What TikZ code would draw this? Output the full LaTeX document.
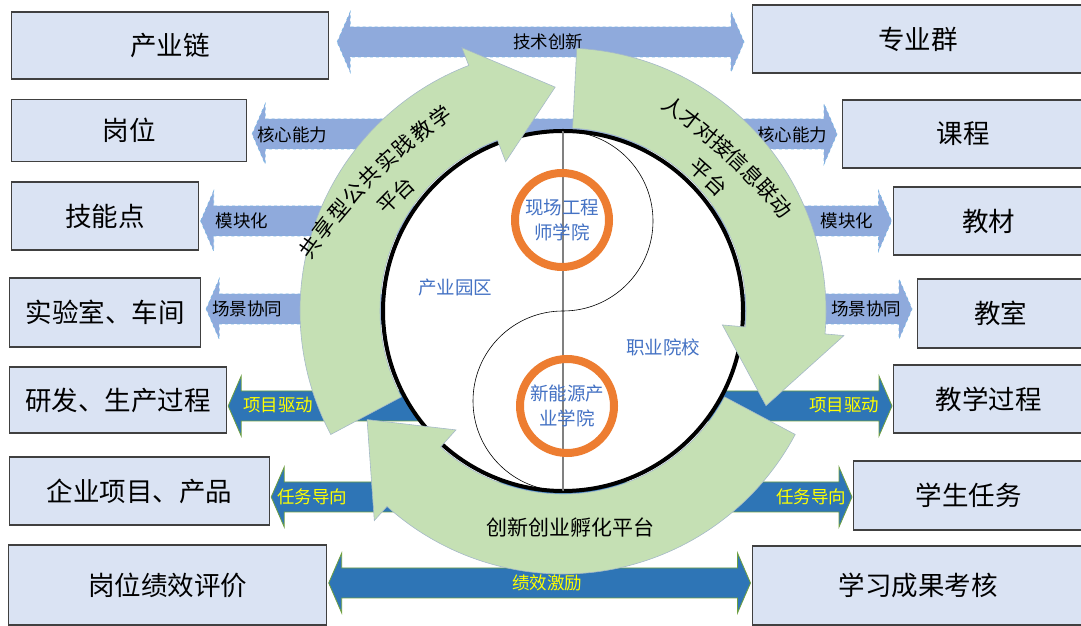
\documentclass[tikz,border=0pt]{standalone}
\usepackage{fontspec}
\setmainfont{Noto Sans CJK SC}
\usetikzlibrary{calc}

\definecolor{boxfill}{HTML}{DAE3F3}
\definecolor{boxline}{HTML}{404040}
\definecolor{lightblue}{HTML}{8FAADC}
\definecolor{lightedge}{HTML}{7DB5E3}
\definecolor{darkblue}{HTML}{2E75B6}
\definecolor{darkedge}{HTML}{70A040}
\definecolor{labelyellow}{HTML}{FFFF00}
\definecolor{platgreen}{HTML}{C5E0B4}
\definecolor{platedge}{HTML}{A5B9C8}
\definecolor{ringorange}{HTML}{ED7D31}
\definecolor{textblue}{HTML}{4472C4}

% double arrow between two boxes: style, left box, right box, axis y, gap
\newcommand{\band}[5]{%
  \path[#1] let \p1=(#2.east), \p2=(#3.west) in
    (\x1+#5,#4pt) -- ++(13,30) -- ++(0,-15) -- (\x2-#5-13,#4pt+15pt) -- ++(0,15)
    -- (\x2-#5,#4pt) -- ++(-13,-30) -- ++(0,15) -- (\x1+#5+13,#4pt-15pt)
    -- ++(0,-15) -- cycle;}

% curved arrow round the campus: tail angle, head base angle, tip angle
\newcommand{\ringarrow}[3]{%
  \path[platform] ($(hub.center)+(#1:183)$) arc[start angle=#1,end angle=#2,radius=183]
    -- ($(hub.center)+(#2:160)$) -- ($(hub.center)+(#3:224)$) -- ($(hub.center)+(#2:282)$)
    -- ($(hub.center)+(#2:263)$) arc[start angle=#2,end angle=#1,radius=263] -- cycle;}

\begin{document}
\begin{tikzpicture}
    [x=1pt,y=1pt,
    box/.style={rectangle,draw=boxline,fill=boxfill,line width=1.2pt,
      inner sep=0pt,anchor=west,font=\fontsize{26.5}{30}\selectfont},
    lightband/.style={fill=lightblue,draw=lightedge,dashed,line width=0.8pt},
    darkband/.style={fill=darkblue,draw=darkedge,line width=0.8pt},
    lightlabel/.style={font=\fontsize{17.5}{20}\selectfont},
    darklabel/.style={font=\fontsize{17.5}{20}\selectfont,text=labelyellow},
    campus/.style={circle,draw=black,fill=white,line width=4pt,
      minimum size=360pt,inner sep=0pt,outer sep=0pt},
    college/.style={circle,draw=ringorange,line width=8pt,minimum size=94pt,
      inner sep=0pt,text=textblue,align=center,font=\fontsize{18.5}{25}\selectfont},
    zone/.style={text=textblue,font=\fontsize{18.5}{22}\selectfont},
    platform/.style={fill=platgreen,draw=platedge,line width=0.6pt},
    platlabel/.style={inner sep=0pt,font=\fontsize{21}{24}\selectfont}]

    \useasboundingbox (0,0) rectangle (1081,626);
    \clip (0,0) rectangle (1081,626);

    \node[box,minimum width=317pt,minimum height=67pt] (chain)      at (11,580.5) {产业链};
    \node[box,minimum width=235pt,minimum height=62pt] (post)       at (11,495.5) {岗位};
    \node[box,minimum width=187pt,minimum height=68pt] (skill)      at (11,410)   {技能点};
    \node[box,minimum width=191pt,minimum height=69pt] (lab)        at (9,313.5)  {实验室、车间};
    \node[box,minimum width=217pt,minimum height=66pt] (rnd)        at (9,226)    {研发、生产过程};
    \node[box,minimum width=260pt,minimum height=68pt] (project)    at (9,135)    {企业项目、产品};
    \node[box,minimum width=318pt,minimum height=80pt] (appraisal)  at (8,41)     {岗位绩效评价};

    \node[box,minimum width=331pt,minimum height=68pt] (major)      at (752,587)  {专业群};
    \node[box,minimum width=241pt,minimum height=68pt] (course)     at (842,492)  {课程};
    \node[box,minimum width=190pt,minimum height=68pt] (textbook)   at (893,405)  {教材};
    \node[box,minimum width=166pt,minimum height=69pt] (classroom)  at (917,312.5) {教室};
    \node[box,minimum width=190pt,minimum height=68pt] (teaching)   at (893,227)  {教学过程};
    \node[box,minimum width=230pt,minimum height=69pt] (task)       at (853,130.5) {学生任务};
    \node[box,minimum width=331pt,minimum height=79pt] (assessment) at (752,40.5) {学习成果考核};

    \band{lightband}{chain}{major}{584}{8}
    \band{lightband}{post}{course}{492}{5}
    \band{lightband}{skill}{textbook}{405}{1.5}
    \band{lightband}{lab}{classroom}{317}{5}
    \band{darkband}{rnd}{teaching}{220}{1}
    \band{darkband}{project}{task}{129}{1}
    \band{darkband}{appraisal}{assessment}{43}{1.5}

    \node[lightlabel] (innovation)   at (548,584) {技术创新};
    \node[lightlabel] (core left)    at (292,491) {核心能力};
    \node[lightlabel] (core right)   at (792,491) {核心能力};
    \node[lightlabel] (module left)  at (242,405) {模块化};
    \node[lightlabel] (module right) at (847,405) {模块化};
    \node[lightlabel] (scene left)   at (247,317) {场景协同};
    \node[lightlabel] (scene right)  at (866,317) {场景协同};
    \node[darklabel]  (drive left)   at (278,221) {项目驱动};
    \node[darklabel]  (drive right)  at (844,221) {项目驱动};
    \node[darklabel]  (guide left)   at (312,129) {任务导向};
    \node[darklabel]  (guide right)  at (811,129) {任务导向};
    \node[darklabel]  (incentive)    at (547,43)  {绩效激励};

    \node[campus] (hub) at (563,315) {};
    \draw[gray,line width=1.2pt] (hub.north) -- (hub.south);
    \draw[line width=0.6pt] (hub.north) arc[start angle=90,end angle=-90,radius=90]
      arc[start angle=90,end angle=270,radius=90];

    \node[college] (engineer) at (562,406) {现场工程\\师学院};
    \node[college] (energy)   at (567,220) {新能源产\\业学院};
    \node[zone]    (park)     at (455,338) {产业园区};
    \node[zone]    (school)   at (663,279) {职业院校};

    \ringarrow{208}{111}{92}
    \ringarrow{87}{-5}{-25}
    \ringarrow{-28}{-132}{-151}

    \coordinate (bend a) at (755,64);
    \foreach \ch [count=\i from 0] in {共,享,型,公,共,实,践,教,学}
      \node[platlabel,rotate=54.7-2.43*\i] (shared\i) at ($(bend a)+({144.7-2.43*\i}:545)$) {\ch};
    \foreach \ch [count=\i from 0] in {平,台}
      \node[platlabel,rotate=45.6-2.4*\i] (shared pf\i) at ($(bend a)+({135.6-2.4*\i}:513)$) {\ch};

    \coordinate (bend b) at (360.5,72.5);
    \foreach \ch [count=\i from 0] in {人,才,对,接,信,息,联,动}
      \node[platlabel,rotate=-35.05-2.2*\i] (talent\i) at ($(bend b)+({54.95-2.2*\i}:545)$) {\ch};
    \foreach \ch [count=\i from 0] in {平,台}
      \node[platlabel,rotate=-41.55-2.5*\i] (talent pf\i) at ($(bend b)+({48.45-2.5*\i}:512)$) {\ch};

    \node[platlabel] (incubator) at (570,98) {创新创业孵化平台};

  \end{tikzpicture}
\end{document}
